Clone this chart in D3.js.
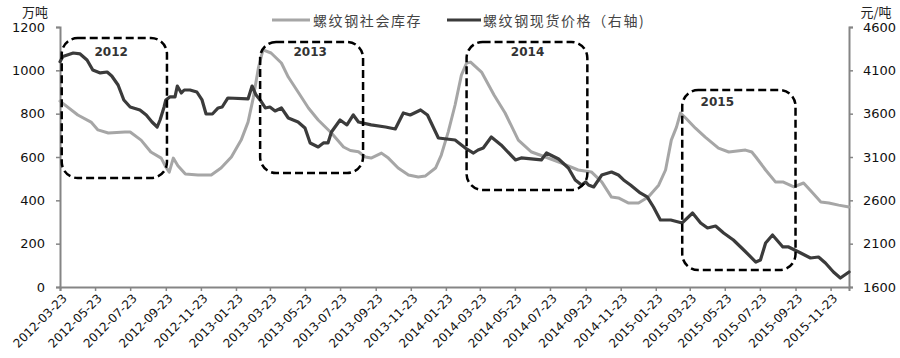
<!DOCTYPE html>
<html><head><meta charset="utf-8">
<script src="https://cdn.jsdelivr.net/npm/d3@7/dist/d3.min.js"></script>
<style>body{margin:0;background:#fff}</style>
</head><body>
<svg id="chart" width="900" height="358"></svg>
<script>
// ---------- data ----------
const xTickLabels = ["2012-03-23","2012-05-23","2012-07-23","2012-09-23","2012-11-23",
  "2013-01-23","2013-03-23","2013-05-23","2013-07-23","2013-09-23","2013-11-23",
  "2014-01-23","2014-03-23","2014-05-23","2014-07-23","2014-09-23","2014-11-23",
  "2015-01-23","2015-03-23","2015-05-23","2015-07-23","2015-09-23","2015-11-23"];
const leftTicks = [0,200,400,600,800,1000,1200];
const rightTicks = [1600,2100,2600,3100,3600,4100,4600];

const inventoryDates = ["2012-03-23","2012-04-23","2012-05-16","2012-05-28","2012-06-15","2012-07-14","2012-07-23","2012-08-11","2012-08-28","2012-09-15","2012-09-23","2012-09-29","2012-10-06","2012-10-14","2012-10-27","2012-11-18","2012-12-11","2012-12-28",
  "2013-01-15","2013-02-01","2013-02-13","2013-02-22","2013-03-03","2013-03-11","2013-03-25","2013-04-12","2013-04-24","2013-05-11","2013-05-29","2013-06-15","2013-07-08","2013-07-29","2013-08-10","2013-08-24","2013-09-05","2013-09-15","2013-10-03","2013-10-15","2013-11-01","2013-11-19","2013-12-06","2013-12-18",
  "2014-01-05","2014-01-15","2014-01-27","2014-02-08","2014-02-19","2014-02-28","2014-03-07","2014-03-26","2014-04-17","2014-05-06","2014-05-29","2014-06-21","2014-07-15","2014-08-12","2014-09-10","2014-10-03","2014-10-21","2014-11-07","2014-11-19","2014-12-06","2014-12-24",
  "2015-01-10","2015-01-28","2015-02-09","2015-02-19","2015-02-28","2015-03-07","2015-03-16","2015-04-02","2015-04-19","2015-05-12","2015-05-30","2015-06-28","2015-07-09","2015-07-16","2015-08-02","2015-08-19","2015-09-01","2015-09-20","2015-10-07","2015-10-23","2015-11-06","2015-11-20","2015-12-07","2015-12-25"];
const inventoryValues = [858,794,761,725,711,715,715,678,623,595,554,530,595,560,521,517,517,549,
  600,678,761,872,1011,1094,1080,1034,969,900,826,771,711,646,630,624,600,595,618,595,549,517,508,512,
  549,609,715,840,978,1034,1038,992,885,803,678,623,600,572,540,531,485,415,411,388,388,
  415,470,540,678,738,803,780,733,692,641,623,632,623,600,540,485,485,462,480,434,392,388,378,369];

const priceDates = ["2012-03-23","2012-03-28","2012-04-15","2012-04-27","2012-05-09","2012-05-19","2012-06-01","2012-06-13","2012-06-21","2012-07-02","2012-07-12","2012-07-23","2012-08-09","2012-08-20","2012-08-30","2012-09-08","2012-09-13","2012-09-20","2012-09-23","2012-09-30","2012-10-09","2012-10-13","2012-10-20","2012-10-25","2012-11-04","2012-11-16","2012-11-25","2012-12-02","2012-12-13","2012-12-23","2012-12-30",
  "2013-01-09","2013-02-13","2013-02-20","2013-02-27","2013-03-06","2013-03-15","2013-03-23","2013-04-01","2013-04-12","2013-04-24","2013-05-11","2013-05-23","2013-06-01","2013-06-15","2013-06-24","2013-07-02","2013-07-08","2013-07-23","2013-08-04","2013-08-15","2013-08-24","2013-09-15","2013-10-10","2013-10-27","2013-11-10","2013-11-22","2013-12-10","2013-12-22",
  "2014-01-10","2014-02-08","2014-02-28","2014-03-12","2014-03-20","2014-03-29","2014-04-12","2014-04-29","2014-05-24","2014-06-03","2014-07-08","2014-07-17","2014-08-07","2014-08-24","2014-09-05","2014-09-16","2014-09-23","2014-09-28","2014-10-07","2014-10-21","2014-11-07","2014-11-19","2014-11-28","2014-12-10","2014-12-27",
  "2015-01-08","2015-01-19","2015-01-31","2015-02-18","2015-03-10","2015-03-28","2015-04-11","2015-04-23","2015-05-07","2015-05-21","2015-06-07","2015-06-25","2015-07-16","2015-07-24","2015-08-02","2015-08-14","2015-09-01","2015-09-11","2015-10-02","2015-10-19","2015-11-02","2015-11-14","2015-11-28","2015-12-10","2015-12-25"];
const priceValues = [4200,4260,4300,4289,4220,4104,4070,4081,4035,3931,3758,3677,3643,3585,3504,3446,3527,3677,3758,3793,3793,3919,3839,3873,3873,3850,3758,3596,3596,3666,3677,
  3781,3770,3919,3815,3758,3666,3677,3631,3666,3550,3504,3435,3262,3216,3262,3262,3389,3527,3470,3585,3504,3470,3446,3423,3608,3585,3643,3585,
  3319,3296,3193,3146,3181,3204,3331,3239,3066,3089,3066,3146,3077,2973,2835,2777,2812,2777,2754,2892,2927,2892,2835,2777,2685,
  2639,2523,2373,2373,2339,2454,2339,2281,2304,2223,2142,2027,1888,1912,2108,2200,2062,2062,1992,1935,1946,1877,1773,1704,1773];

const seriesNames = ["螺纹钢社会库存","螺纹钢现货价格（右轴)"];

// annotation boxes (dates / left-axis values)
const boxYears  = ["2012","2013","2014","2015"];
const boxStart  = ["2012-03-26","2013-03-06","2014-02-28","2015-03-10"];
const boxEnd    = ["2012-09-25","2013-09-01","2014-09-26","2015-09-23"];
const boxTop    = [1149,1131,1131,909];
const boxBottom = [503,526,448,78];
const boxLabelDate  = ["2012-06-20","2013-06-01","2014-06-14","2015-05-10"];
const boxLabelValue = [1085,1085,1085,854];

// ---------- chart ----------
const W = 900, H = 358;
const margin = {left:60, right:51, top:27, bottom:71};
const parse = d3.timeParse("%Y-%m-%d");
const svg = d3.select("#chart");

const x = d3.scaleTime()
  .domain([parse("2012-03-23"), parse("2015-12-25")])
  .range([margin.left, W - margin.right]);
const yL = d3.scaleLinear().domain([0,1200]).range([H - margin.bottom, margin.top]);
const yR = d3.scaleLinear().domain([1600,4600]).range([H - margin.bottom, margin.top]);

const axisColor = "#858585";
const font = "'DejaVu Sans', Verdana, sans-serif";

// axes
const gx = svg.append("g").attr("transform", `translate(0,${H - margin.bottom})`)
  .call(d3.axisBottom(x).tickValues(xTickLabels.map(parse)).tickSizeOuter(0).tickSize(4).tickFormat(d3.timeFormat("%Y-%m-%d")));
gx.selectAll("text")
  .attr("text-anchor","end")
  .attr("transform","rotate(-45)")
  .attr("dx","-0.3em").attr("dy","0.55em")
  .style("font-family", font).style("font-size","12px").attr("fill","#111");

const gl = svg.append("g").attr("transform", `translate(${margin.left},0)`)
  .call(d3.axisLeft(yL).tickValues(leftTicks).tickFormat(d3.format("d")).tickSizeOuter(0).tickSize(4).tickPadding(11));
gl.selectAll("text").style("font-family", font).style("font-size","13px").attr("fill","#111");

const gr = svg.append("g").attr("transform", `translate(${W - margin.right},0)`)
  .call(d3.axisRight(yR).tickValues(rightTicks).tickFormat(d3.format("d")).tickSizeOuter(0).tickSize(4).tickPadding(10));
gr.selectAll("text").style("font-family", font).style("font-size","13px").attr("fill","#111");

[gx,gl,gr].forEach(g => {
  g.select(".domain").attr("stroke", axisColor).attr("stroke-width", 2);
  g.selectAll(".tick line").attr("stroke", axisColor).attr("stroke-width", 1.5);
});

// unit labels
svg.append("text").attr("x", 35).attr("y", 17).attr("text-anchor","middle")
  .style("font-family","'Noto Sans CJK SC', sans-serif").style("font-size","13px").attr("fill","#222").text("万吨");
svg.append("text").attr("x", 876).attr("y", 17).attr("text-anchor","middle")
  .style("font-family","'Noto Sans CJK SC', sans-serif").style("font-size","13px").attr("fill","#222").text("元/吨");

// lines
const invLine = d3.line().x((d,i)=>x(parse(inventoryDates[i]))).y(d=>yL(d));
const priceLine = d3.line().x((d,i)=>x(parse(priceDates[i]))).y(d=>yR(d));

svg.append("path").datum(inventoryValues).attr("d", invLine)
  .attr("fill","none").attr("stroke","#a6a6a6").attr("stroke-width",3)
  .attr("stroke-linejoin","round").attr("stroke-linecap","round");
svg.append("path").datum(priceValues).attr("d", priceLine)
  .attr("fill","none").attr("stroke","#3b3b3b").attr("stroke-width",3.2)
  .attr("stroke-linejoin","round").attr("stroke-linecap","round");

// annotation boxes
boxYears.forEach((yr,i) => {
  const x0 = x(parse(boxStart[i])), x1 = x(parse(boxEnd[i]));
  const y0 = yL(boxTop[i]), y1 = yL(boxBottom[i]);
  svg.append("rect").attr("x", x0).attr("y", y0)
    .attr("width", x1 - x0).attr("height", y1 - y0)
    .attr("rx", 16).attr("ry", 16)
    .attr("fill","none").attr("stroke","#000").attr("stroke-width",2.5)
    .attr("stroke-dasharray","8,4");
  svg.append("text").attr("x", x(parse(boxLabelDate[i]))).attr("y", yL(boxLabelValue[i]))
    .attr("text-anchor","middle").attr("dominant-baseline","central")
    .style("font-family", font).style("font-weight","bold").style("font-size","12px")
    .attr("fill","#333").text(yr);
});

// legend
const lg = svg.append("g");
const legendItems = [
  {name: seriesNames[0], color:"#a6a6a6", x0:272, x1:310, tx:313},
  {name: seriesNames[1], color:"#3b3b3b", x0:447, x1:481, tx:483}
];
legendItems.forEach(it => {
  lg.append("line").attr("x1", it.x0).attr("x2", it.x1).attr("y1", 20).attr("y2", 20)
    .attr("stroke", it.color).attr("stroke-width", 3);
  lg.append("text").attr("x", it.tx).attr("y", 20).attr("dominant-baseline","central")
    .style("font-family","'Noto Sans CJK SC', sans-serif").style("font-size","14px")
    .style("letter-spacing","1.6px").attr("fill","#444").text(it.name);
});
</script>
</body></html>
